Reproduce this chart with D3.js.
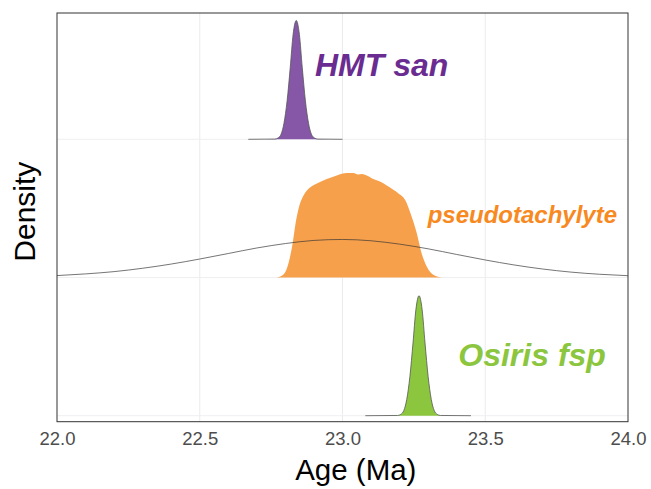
<!DOCTYPE html>
<html>
<head>
<meta charset="utf-8">
<script src="https://cdn.jsdelivr.net/npm/d3@7"></script>
<style>
  html, body { margin: 0; padding: 0; background: #fff; }
  svg { display: block; }
</style>
</head>
<body>
<div id="chart"></div>
<script>
// ---- data ----
const categories = ["Osiris fsp", "pseudotachylyte", "HMT san"];
const xTicks = [22.0, 22.5, 23.0, 23.5, 24.0];

// scaled density heights (1 = tallest ridge)
const hmtDensity = [
  [22.670, 0], [22.763, 0.002], [22.774, 0.011], [22.785, 0.043], [22.795, 0.134],
  [22.806, 0.321], [22.817, 0.600], [22.827, 0.874], [22.838, 0.990], [22.849, 0.874],
  [22.859, 0.600], [22.870, 0.321], [22.881, 0.134], [22.891, 0.043], [22.902, 0.011],
  [22.913, 0.002], [23.000, 0]
];
const pseudoDensity = [
  [22.770, 0], [22.795, 0.030], [22.812, 0.130], [22.825, 0.280], [22.837, 0.470],
  [22.849, 0.600], [22.865, 0.690], [22.884, 0.745], [22.912, 0.785], [22.945, 0.820],
  [22.980, 0.850], [23.015, 0.870], [23.038, 0.870], [23.055, 0.858], [23.068, 0.862],
  [23.085, 0.850], [23.108, 0.820], [23.131, 0.800], [23.155, 0.767], [23.178, 0.731],
  [23.195, 0.703], [23.219, 0.648], [23.242, 0.508], [23.260, 0.370], [23.277, 0.203],
  [23.295, 0.092], [23.318, 0.023], [23.350, 0]
];
const pseudoPrior = [
  [22.0, 0.016], [22.1, 0.030], [22.2, 0.049], [22.3, 0.077], [22.4, 0.112],
  [22.5, 0.154], [22.6, 0.200], [22.7, 0.246], [22.8, 0.283], [22.9, 0.309],
  [23.0, 0.317], [23.1, 0.306], [23.2, 0.278], [23.3, 0.239], [23.4, 0.192],
  [23.5, 0.146], [23.6, 0.105], [23.7, 0.071], [23.8, 0.045], [23.9, 0.027], [24.0, 0.015]
];
const osirisDensity = [
  [23.080, 0], [23.193, 0.002], [23.204, 0.011], [23.215, 0.044], [23.225, 0.135],
  [23.236, 0.325], [23.247, 0.607], [23.257, 0.882], [23.268, 1.000], [23.279, 0.882],
  [23.289, 0.607], [23.300, 0.325], [23.311, 0.135], [23.321, 0.044], [23.332, 0.011],
  [23.343, 0.002], [23.450, 0]
];
// label anchor points (age, scaled height above baseline)
const labelNames = ["HMT san", "pseudotachylyte", "Osiris fsp"];
const labelAges = [23.137, 23.630, 23.664];
const labelHeights = [0.528, 0.456, 0.414];

// ---- layout ----
const W = 651, H = 489;
const m = { left: 57, right: 628, top: 13, bottom: 421.7 };

const svg = d3.select("#chart").append("svg")
  .attr("width", W).attr("height", H);

const x = d3.scaleLinear().domain([22, 24]).range([m.left, m.right]);
const y = d3.scalePoint().domain(categories).range([415.7, 139.3]);
const h = d3.scaleLinear().domain([0, 1]).range([0, 120]);

// gridlines
const grid = svg.append("g");
grid.selectAll("line.v").data(xTicks.slice(1, -1)).join("line")
  .attr("x1", d => x(d)).attr("x2", d => x(d))
  .attr("y1", m.top).attr("y2", m.bottom)
  .attr("stroke", "#ebebeb").attr("stroke-width", 1);
grid.selectAll("line.h").data(categories).join("line")
  .attr("x1", m.left).attr("x2", m.right)
  .attr("y1", d => y(d)).attr("y2", d => y(d))
  .attr("stroke", "#efeff2").attr("stroke-width", 1);

function area(cat) {
  return d3.area().x(d => x(d[0])).y0(y(cat)).y1(d => y(cat) - h(d[1]))
    .curve(d3.curveMonotoneX);
}
function line(cat) {
  return d3.line().x(d => x(d[0])).y(d => y(cat) - h(d[1]))
    .curve(d3.curveMonotoneX);
}

const ridges = svg.append("g");
// HMT san
ridges.append("path").datum(hmtDensity)
  .attr("d", area("HMT san")).attr("fill", "#8557a6");
ridges.append("path").datum(hmtDensity)
  .attr("d", line("HMT san")).attr("fill", "none")
  .attr("stroke", "#555").attr("stroke-width", 0.8);
// pseudotachylyte
ridges.append("path").datum(pseudoDensity)
  .attr("d", area("pseudotachylyte")).attr("fill", "#f7a04c");
ridges.append("path").datum(pseudoPrior)
  .attr("d", line("pseudotachylyte")).attr("fill", "none")
  .attr("stroke", "#333").attr("stroke-width", 0.8).attr("stroke-opacity", 0.85);
// Osiris fsp
ridges.append("path").datum(osirisDensity)
  .attr("d", area("Osiris fsp")).attr("fill", "#8cc63f");
ridges.append("path").datum(osirisDensity)
  .attr("d", line("Osiris fsp")).attr("fill", "none")
  .attr("stroke", "#555").attr("stroke-width", 0.8);

// labels
const labelColors = ["#6a2c91", "#f7891f", "#8cc63f"];
const labelSizes = [32, 24, 32];
const labelCats = ["HMT san", "pseudotachylyte", "Osiris fsp"];
svg.append("g").selectAll("text").data(labelNames).join("text")
  .attr("x", (d, i) => x(labelAges[i]))
  .attr("y", (d, i) => y(labelCats[i]) - h(labelHeights[i]))
  .attr("text-anchor", "middle")
  .attr("font-family", "Liberation Sans, Arial, sans-serif")
  .attr("font-weight", "bold").attr("font-style", "italic")
  .attr("font-size", (d, i) => labelSizes[i])
  .attr("fill", (d, i) => labelColors[i])
  .text(d => d);

// panel border
svg.append("rect")
  .attr("x", m.left).attr("y", m.top)
  .attr("width", m.right - m.left).attr("height", m.bottom - m.top)
  .attr("fill", "none").attr("stroke", "#333").attr("stroke-width", 1);

// x axis
const xAxis = svg.append("g")
  .attr("transform", `translate(0,${m.bottom})`)
  .attr("font-family", "Liberation Sans, Arial, sans-serif")
  .attr("font-size", 18.5)
  .call(d3.axisBottom(x).tickValues(xTicks).tickFormat(d3.format(".1f")).tickSize(0).tickPadding(10.5));
xAxis.select(".domain").remove();
xAxis.selectAll("text")
  .attr("font-family", "Liberation Sans, Arial, sans-serif")
  .attr("font-size", 18.5).attr("fill", "#4d4d4d");

// axis titles
svg.append("text")
  .attr("x", 355.8).attr("y", 479.5)
  .attr("text-anchor", "middle")
  .attr("font-family", "Liberation Sans, Arial, sans-serif")
  .attr("font-size", 29.5).attr("fill", "#000")
  .text("Age (Ma)");
svg.append("text")
  .attr("transform", "translate(35,211.7) rotate(-90)")
  .attr("text-anchor", "middle")
  .attr("font-family", "Liberation Sans, Arial, sans-serif")
  .attr("font-size", 30).attr("fill", "#000")
  .text("Density");
</script>
</body>
</html>
